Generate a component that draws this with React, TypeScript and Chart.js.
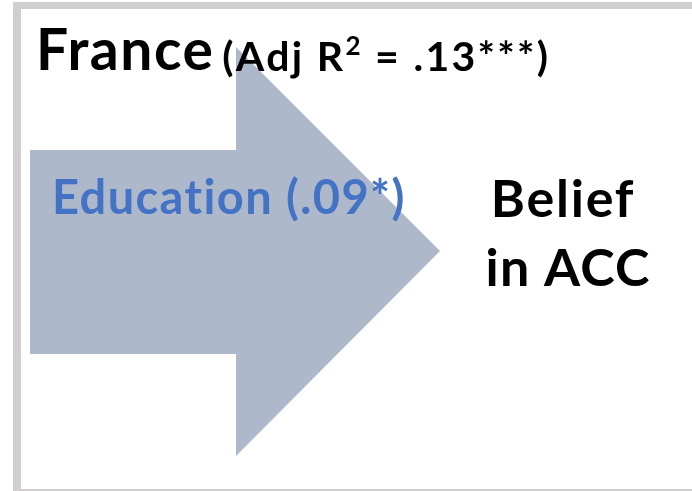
import React, { useEffect, useRef } from "react";
import { Chart, registerables } from "chart.js";

Chart.register(...registerables);

// Diagram data (in picture units)
const arrowX = [30, 236, 236, 440, 236, 236, 30, 30];
const arrowY = [150, 150, 47, 251, 456, 354, 354, 150];

const titleMain = "France";
const titleSubA = "(Adj R";
const titleSup = "2";
const titleSubB = " = .13***)";
const predictorLabel = "Education (.09*)";
const outcomeLines = ["Belief", "in ACC"];

const W = 692;
const H = 491;
const FONT = "Lato, 'Open Sans', sans-serif";

const overlayPlugin = {
  id: "overlay",
  beforeDraw(chart: any) {
    const ctx = chart.ctx;
    ctx.save();
    ctx.fillStyle = "#ffffff";
    ctx.fillRect(0, 0, W, H);
    ctx.fillStyle = "#d0cece";
    ctx.fillRect(13, 2, W, H);
    ctx.fillStyle = "#ffffff";
    ctx.fillRect(21, 9, W, 480);
    ctx.restore();
  },
  afterDatasetsDraw(chart: any) {
    const ctx = chart.ctx;
    ctx.save();
    ctx.textBaseline = "alphabetic";
    ctx.textAlign = "left";
    // Title
    ctx.fillStyle = "#000000";
    ctx.letterSpacing = "1.5px";
    ctx.font = `bold 57px ${FONT}`;
    ctx.fillText(titleMain, 36, 70);
    let x = 36 + ctx.measureText(titleMain).width + 8;
    ctx.letterSpacing = "2.3px";
    ctx.font = `bold 41px ${FONT}`;
    ctx.fillText(titleSubA, x, 71);
    x += ctx.measureText(titleSubA).width;
    ctx.font = `bold 26px ${FONT}`;
    ctx.fillText(titleSup, x, 55);
    x += ctx.measureText(titleSup).width;
    ctx.font = `bold 41px ${FONT}`;
    ctx.fillText(titleSubB, x, 71);

    // Predictor
    ctx.fillStyle = "#4472c4";
    ctx.letterSpacing = "1.4px";
    ctx.font = `bold 47px ${FONT}`;
    ctx.fillText(predictorLabel, 52, 214);

    // Outcome
    ctx.fillStyle = "#000000";
    ctx.textAlign = "center";
    ctx.font = `bold 52px ${FONT}`;
    ctx.letterSpacing = "1.8px";
    ctx.fillText(outcomeLines[0], 563, 217);
    ctx.letterSpacing = "1.1px";
    ctx.fillText(outcomeLines[1], 568, 286);
    ctx.restore();
  },
};

export default function App() {
  const ref = useRef<HTMLCanvasElement | null>(null);

  useEffect(() => {
    if (!ref.current) return;
    const data = arrowX.map((xv, i) => ({ x: xv, y: arrowY[i] }));
    const chart = new Chart(ref.current, {
      type: "scatter",
      data: {
        datasets: [
          {
            data,
            showLine: true,
            fill: "shape",
            backgroundColor: "#adb9ca",
            borderColor: "#adb9ca",
            borderWidth: 0,
            pointRadius: 0,
            tension: 0,
          } as any,
        ],
      },
      options: {
        animation: false,
        responsive: false,
        maintainAspectRatio: false,
        layout: { padding: 0 },
        plugins: {
          legend: { display: false },
          tooltip: { enabled: false },
          title: { display: false },
        },
        scales: {
          x: { type: "linear", min: 0, max: W, display: false },
          y: { type: "linear", min: 0, max: H, reverse: true, display: false },
        },
      },
      plugins: [overlayPlugin],
    });
    return () => chart.destroy();
  }, []);

  return (
    <div style={{ position: "fixed", left: 0, top: 0, width: W, height: H, background: "#fff" }}>
      <canvas ref={ref} width={W} height={H} style={{ width: W, height: H, display: "block" }} />
    </div>
  );
}
